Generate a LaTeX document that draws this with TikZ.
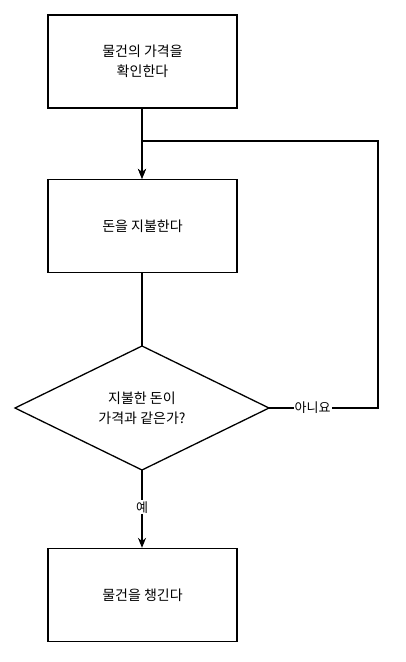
\documentclass[tikz,border=0pt]{standalone}
\usepackage{fontspec}
\setmainfont{Noto Sans CJK KR}
\usetikzlibrary{shapes.geometric,arrows.meta}
\begin{document}
\begin{tikzpicture}[x=1pt,y=-1pt,
  box/.style={draw,line width=1.3pt,minimum width=189pt,minimum height=93pt,align=center,font=\fontsize{14}{20}\selectfont},
  arr/.style={line width=1.3pt,-{Stealth[length=10pt,width=8pt]}},
  lbl/.style={fill=white,inner sep=1pt,font=\fontsize{13}{15}\selectfont}]
\useasboundingbox (0,0) rectangle (406,662);
\node[box] (a) at (142.5,61.5) {물건의 가격을\\확인한다};
\node[box] (b) at (142.5,226) {돈을 지불한다};
\draw[line width=1.3pt] (15,408) -- (142,346) -- (269,408) -- (142,470) -- cycle;
\node[align=center,font=\fontsize{14}{20}\selectfont] (ct) at (142,408) {지불한 돈이\\가격과 같은가?};
\coordinate (ctop) at (142,346);
\coordinate (cbot) at (142,470);
\coordinate (cr) at (269,408);
\node[box] (d) at (142.5,595) {물건을 챙긴다};
\coordinate (j) at (142,141);
\coordinate (r1) at (378,408);
\coordinate (r2) at (378,141);
\draw[arr] (a.south -| j) -- (b.north -| j);
\draw[line width=1.3pt] (b.south -| j) -- (ctop);
\draw[arr] (cbot) -- node[lbl,pos=0.48] (y) {예} (d.north -| cbot);
\draw[arr] (cr) -- node[lbl,pos=0.4] (n) {아니요} (r1) -- (r2) -- (j) -- (b.north -| j);
\end{tikzpicture}
\end{document}
